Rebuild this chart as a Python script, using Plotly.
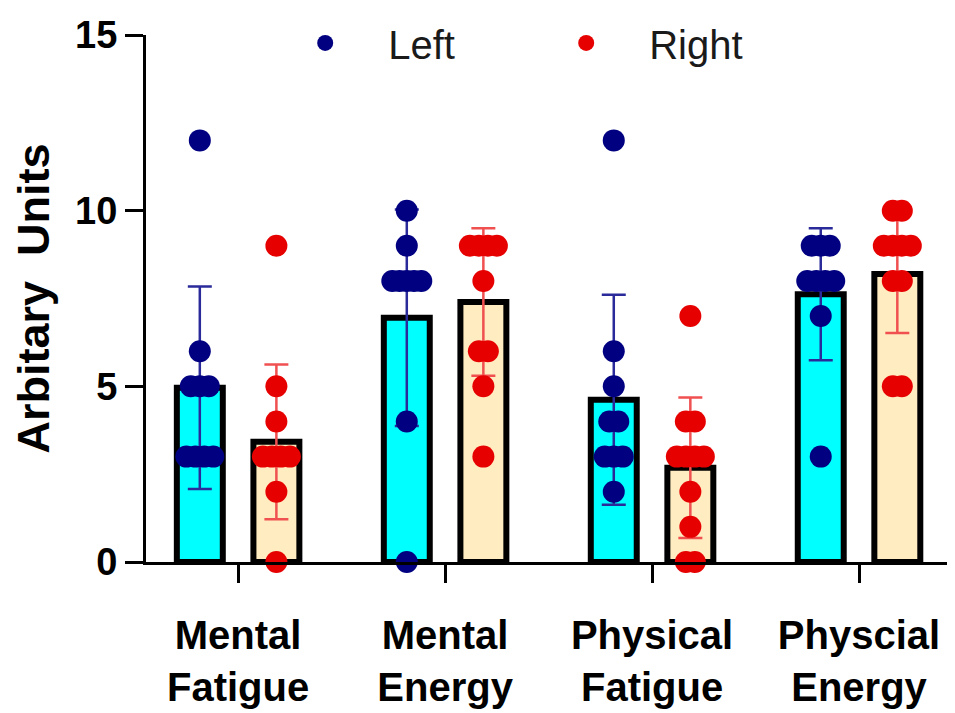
import plotly.graph_objects as go

categories = ["Mental<br>Fatigue", "Mental<br>Energy", "Physical<br>Fatigue", "Physcial<br>Energy"]
series_names = ["Left", "Right"]

left_means = [4.96, 6.95, 4.62, 7.62]
left_sd = [2.88, 3.08, 2.99, 1.88]
right_means = [3.42, 7.40, 2.68, 8.20]
right_sd = [2.20, 2.10, 2.00, 1.68]

left_points = [
    [12, 6, 5, 5, 5, 3, 3, 3, 3],
    [10, 9, 8, 8, 8, 8, 8, 4, 0],
    [12, 6, 5, 4, 4, 3, 3, 3, 2],
    [9, 9, 9, 8, 8, 8, 8, 7, 3],
]
right_points = [
    [9, 5, 4, 3, 3, 3, 3, 2, 0],
    [9, 9, 9, 9, 8, 6, 6, 5, 3],
    [7, 4, 4, 3, 3, 3, 3, 2, 1, 0, 0],
    [10, 10, 9, 9, 9, 9, 8, 8, 5, 5],
]

y_ticks = [0, 5, 10, 15]

# ---- styling / layout constants ----
FONT = "Liberation Sans"
OFFSET = 0.185
BAR_W = 0.222
PX_PER_UNIT = 207.0
DOT_STEP_PX = 9.0
MAX_SPREAD_PX = 29.0

bar_fill = ["#00ffff", "#ffecc0"]
dot_col = ["#000080", "#e60000"]
err_col = ["#2a2a9a", "#f05050"]


def swarm(points_per_group, side):
    xs, ys = [], []
    for gi, pts in enumerate(points_per_group):
        center = gi + side * OFFSET
        counts = {}
        for v in pts:
            counts[v] = counts.get(v, 0) + 1
        for v, k in counts.items():
            step = DOT_STEP_PX if k <= 4 else MAX_SPREAD_PX / (k - 1)
            for j in range(k):
                dx = (j - (k - 1) / 2.0) * step / PX_PER_UNIT
                xs.append(center + dx)
                ys.append(v)
    return xs, ys


fig = go.Figure()

groups = list(range(len(categories)))
means = [left_means, right_means]
sds = [left_sd, right_sd]
pts_all = [left_points, right_points]
sides = [-1, 1]

for s in range(2):
    fig.add_trace(go.Bar(
        x=[g + sides[s] * OFFSET for g in groups],
        y=means[s],
        width=BAR_W,
        marker=dict(color=bar_fill[s], line=dict(color="black", width=6)),
        showlegend=False,
        hoverinfo="skip",
    ))

for s in range(2):
    fig.add_trace(go.Scatter(
        x=[g + sides[s] * OFFSET for g in groups],
        y=means[s],
        mode="markers",
        marker=dict(size=1, opacity=0),
        error_y=dict(type="data", array=sds[s], visible=True,
                     color=err_col[s], thickness=2.5, width=12),
        showlegend=False,
        hoverinfo="skip",
        cliponaxis=False,
    ))

for s in range(2):
    xs, ys = swarm(pts_all[s], sides[s])
    fig.add_trace(go.Scatter(
        x=xs, y=ys, mode="markers", name=series_names[s],
        marker=dict(color=dot_col[s], size=22, line=dict(width=0)),
        cliponaxis=False,
    ))

# page body has an 8px margin, so the figure is sized/offset to compensate
fig.update_layout(
    width=947, height=705,
    margin=dict(l=138, r=2, t=20, b=151),
    paper_bgcolor="white", plot_bgcolor="white",
    barmode="overlay",
    font=dict(family=FONT, color="black"),
    legend=dict(
        orientation="h", x=0.144, y=0.985, xanchor="left", yanchor="middle",
        font=dict(family=FONT, size=40, color="#1a1a1a"),
        itemwidth=116, entrywidth=130, bgcolor="rgba(0,0,0,0)",
    ),
    xaxis=dict(
        range=[-0.445, 3.454],
        tickvals=groups, ticktext=categories,
        tickfont=dict(family=FONT, size=40, weight="bold"),
        ticks="outside", ticklen=18, tickwidth=3, tickcolor="black",
        ticklabelstandoff=18,
        showline=True, linecolor="black", linewidth=3,
        showgrid=False, zeroline=False,
    ),
    yaxis=dict(
        range=[0, 15],
        tickvals=y_ticks,
        tickfont=dict(family=FONT, size=38, weight="bold"),
        ticks="outside", ticklen=18, tickwidth=3, tickcolor="black",
        showline=True, linecolor="black", linewidth=3,
        showgrid=False, zeroline=False,
        title=dict(text="Arbitary  Units", font=dict(family=FONT, size=45, weight="bold"), standoff=14),
    ),
)

fig.write_html("out.html")
